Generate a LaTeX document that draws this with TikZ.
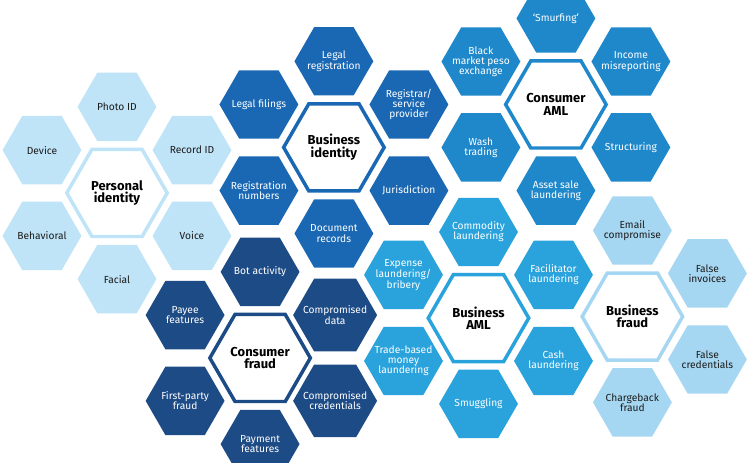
\documentclass[tikz,border=0pt]{standalone}
\usepackage{fontspec}
\setmainfont{Fira Sans}
\setsansfont{Fira Sans}
\usetikzlibrary{shapes.geometric}
\definecolor{cpale}{HTML}{BFE3F7}
\definecolor{cmid}{HTML}{1A68B3}
\definecolor{cnavy}{HTML}{1D4B86}
\definecolor{cocean}{HTML}{1F88CB}
\definecolor{csky}{HTML}{2AA3DD}
\definecolor{cice}{HTML}{A6D7F2}
\definecolor{cink}{HTML}{1C1C1C}
\tikzset{
  every picture/.style={font=\sffamily},
  hex/.style={regular polygon, regular polygon sides=6, minimum size=2.63cm, inner sep=-6pt, fill=#1, align=center, text=white, font=\sffamily\fontsize{9.7}{9.7}\selectfont},
  hex/.default=cmid,
  hub/.style={regular polygon, regular polygon sides=6, minimum size=3.35cm, inner sep=-6pt, draw=#1, fill=white, line width=3.3pt, align=center, text=black, font=\sffamily\bfseries\fontsize{12.3}{11.8}\selectfont},
  hub/.default=cmid,
}

\begin{document}
\begin{tikzpicture}[
    pale/.style={hex=cpale, text=cink},
    ice/.style={hex=cice, text=cink},
    mid/.style={hex=cmid},
    navy/.style={hex=cnavy},
    ocean/.style={hex=cocean},
    sky/.style={hex=csky},
  ]
  \clip (0,0) rectangle (25,15.433);

  % personal identity
  \node[hub=cpale] (pid)    at (3.9,9.0)    {Personal\\identity};
  \node[pale]      (photo)  at (3.9,11.87)  {Photo ID};
  \node[pale]      (recid)  at (6.4,10.43)  {Record ID};
  \node[pale]      (voice)  at (6.4,7.57)   {Voice};
  \node[pale]      (facial) at (3.9,6.13)   {Facial};
  \node[pale]      (behav)  at (1.4,7.57)   {Behavioral};
  \node[pale]      (device) at (1.4,10.43)  {Device};

  % business identity
  \node[hub=cmid] (bid)       at (11.13,10.52) {Business\\identity};
  \node[mid]      (legreg)    at (11.13,13.39) {Legal\\registration};
  \node[mid]      (registrar) at (13.63,11.95) {Registrar/\\service\\provider};
  \node[mid]      (juris)     at (13.63,9.08)  {Jurisdiction};
  \node[mid]      (docs)      at (11.13,7.65)  {Document\\records};
  \node[mid]      (regnum)    at (8.63,9.08)   {Registration\\numbers};
  \node[mid]      (filings)   at (8.63,11.95)  {Legal filings};

  % consumer fraud
  \node[hub=cnavy] (cfr)     at (8.67,3.5)   {Consumer\\fraud};
  \node[navy]      (bot)     at (8.67,6.37)  {Bot activity};
  \node[navy]      (cdata)   at (11.17,4.93) {Compromised\\data};
  \node[navy]      (ccred)   at (11.17,2.07) {Compromised\\credentials};
  \node[navy]      (payment) at (8.67,0.63)  {Payment\\features};
  \node[navy]      (firstp)  at (6.17,2.07)  {First-party\\fraud};
  \node[navy]      (payee)   at (6.17,4.93)  {Payee\\features};

  % consumer AML
  \node[hub=cocean] (caml)   at (18.53,11.95) {Consumer\\AML};
  \node[ocean]      (smurf)  at (18.53,14.82) {‘Smurfing’};
  \node[ocean]      (income) at (21.03,13.38) {Income\\misreporting};
  \node[ocean]      (struct) at (21.03,10.52) {Structuring};
  \node[ocean]      (asset)  at (18.53,9.08)  {Asset sale\\laundering};
  \node[ocean]      (wash)   at (16.03,10.52) {Wash\\trading};
  \node[ocean]      (peso)   at (16.03,13.38) {Black\\market peso\\exchange};

  % business AML
  \node[hub=csky] (baml)    at (15.95,4.83) {Business\\AML};
  \node[sky]      (commod)  at (15.95,7.70) {Commodity\\laundering};
  \node[sky]      (facil)   at (18.45,6.27) {Facilitator\\laundering};
  \node[sky]      (cash)    at (18.45,3.40) {Cash\\laundering};
  \node[sky]      (smug)    at (15.95,1.97) {Smuggling};
  \node[sky]      (trade)   at (13.45,3.40) {Trade-based\\money\\laundering};
  \node[sky]      (expense) at (13.45,6.27) {Expense\\laundering/\\bribery};

  % business fraud
  \node[hub=cice] (bfr)      at (21.08,4.88) {Business\\fraud};
  \node[ice]      (email)    at (21.08,7.75) {Email\\compromise};
  \node[ice]      (invoices) at (23.58,6.32) {False\\invoices};
  \node[ice]      (fcred)    at (23.58,3.45) {False\\credentials};
  \node[ice]      (charge)   at (21.08,2.02) {Chargeback\\fraud};
\end{tikzpicture}
\end{document}
